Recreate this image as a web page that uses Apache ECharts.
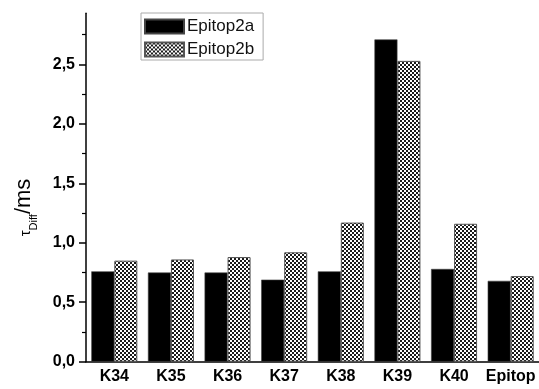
<!DOCTYPE html>
<html>
<head>
<meta charset="utf-8">
<script src="https://cdn.jsdelivr.net/npm/echarts@6/dist/echarts.min.js"></script>
<style>html,body{margin:0;padding:0;background:#fff}#c{width:539px;height:389px}</style>
</head>
<body>
<div id="c"></div>
<script>
const categories = ['K34','K35','K36','K37','K38','K39','K40','Epitop'];
const epitop2a = [0.76, 0.75, 0.75, 0.69, 0.76, 2.71, 0.78, 0.68];
const epitop2b = [0.85, 0.86, 0.88, 0.92, 1.17, 2.53, 1.16, 0.72];
const yMajor = [0, 0.5, 1.0, 1.5, 2.0, 2.5];
const yMinor = [0.25, 0.75, 1.25, 1.75, 2.25, 2.75];

const pc = document.createElement('canvas');
pc.width = 4; pc.height = 4;
const ctx = pc.getContext('2d');
ctx.fillStyle = '#ffffff'; ctx.fillRect(0,0,4,4);
ctx.fillStyle = '#1a1a1a'; ctx.fillRect(0,0,2,2); ctx.fillRect(2,2,2,2);
const pattern = {image: pc, repeat: 'repeat'};

const FONT = 'Liberation Sans, Arial, sans-serif';
const chart = echarts.init(document.getElementById('c'), null, {renderer: 'canvas'});
chart.setOption({
  animation: false,
  backgroundColor: '#fff',
  grid: {left: 86, top: 13.3, width: 456, height: 348.4, containLabel: false},
  legend: {
    orient: 'vertical', left: 141, top: 13,
    itemWidth: 39, itemHeight: 14, itemGap: 6,
    padding: [5, 9, 2, 3],
    borderColor: '#aaa', borderWidth: 1,
    icon: 'rect',
    selectedMode: false,
    textStyle: {fontFamily: FONT, fontSize: 17, color: '#111', padding: [0, 0, 0, -2]},
    data: ['Epitop2a', 'Epitop2b']
  },
  xAxis: [{
    type: 'category', data: categories, position: 'bottom',
    axisLine: {lineStyle: {color: '#000', width: 1.5}},
    axisTick: {alignWithLabel: true, length: 5, lineStyle: {color: '#000', width: 1.5}},
    axisLabel: {fontFamily: FONT, fontSize: 16, fontWeight: 'bold', color: '#000', margin: 7, interval: 0},
    splitLine: {show: false}
  }, {
    type: 'category', data: categories, position: 'bottom',
    axisLine: {show: false},
    axisTick: {alignWithLabel: false, length: 3, lineStyle: {color: '#000', width: 1.2}},
    axisLabel: {show: false},
    splitLine: {show: false}
  }],
  yAxis: [{
    type: 'value', min: 0, max: 2.93,
    axisLine: {show: true, lineStyle: {color: '#000', width: 1.5}},
    axisTick: {show: true, length: 7, customValues: yMajor, lineStyle: {color: '#000', width: 1.5}},
    axisLabel: {
      customValues: yMajor, margin: 11,
      fontFamily: FONT, fontSize: 16, fontWeight: 'bold', color: '#000',
      formatter: v => v.toFixed(1).replace('.', ',')
    },
    splitLine: {show: false},
    name: '{t|τ}{s|Diff}{m|/ms}',
    nameLocation: 'middle', nameGap: 47, nameRotate: 90,
    nameTextStyle: {
      padding: [0, 40, 0, 0],
      rich: {
        t: {fontFamily: FONT, fontSize: 15, color: '#000', verticalAlign: 'bottom', padding: [0, 0, 6, 0]},
        s: {fontFamily: FONT, fontSize: 11, color: '#000', verticalAlign: 'bottom', padding: [0, 0, 0, 0]},
        m: {fontFamily: FONT, fontSize: 22, color: '#000', verticalAlign: 'bottom', padding: [0, 0, 4, 0]}
      }
    }
  }, {
    type: 'value', min: 0, max: 2.93, position: 'left',
    axisLine: {show: false},
    axisTick: {show: true, length: 4, customValues: yMinor, lineStyle: {color: '#000', width: 1.2}},
    axisLabel: {show: false},
    splitLine: {show: false}
  }],
  series: [{
    name: 'Epitop2a', type: 'bar', xAxisIndex: 0, yAxisIndex: 0,
    data: epitop2a, barWidth: 23, barGap: '0%',
    itemStyle: {color: '#000', borderColor: '#444', borderWidth: 0.6}
  }, {
    name: 'Epitop2b', type: 'bar', xAxisIndex: 0, yAxisIndex: 0,
    data: epitop2b, barWidth: 23, barGap: '0%',
    itemStyle: {color: pattern, borderColor: '#555', borderWidth: 1}
  }]
});
</script>
</body>
</html>
